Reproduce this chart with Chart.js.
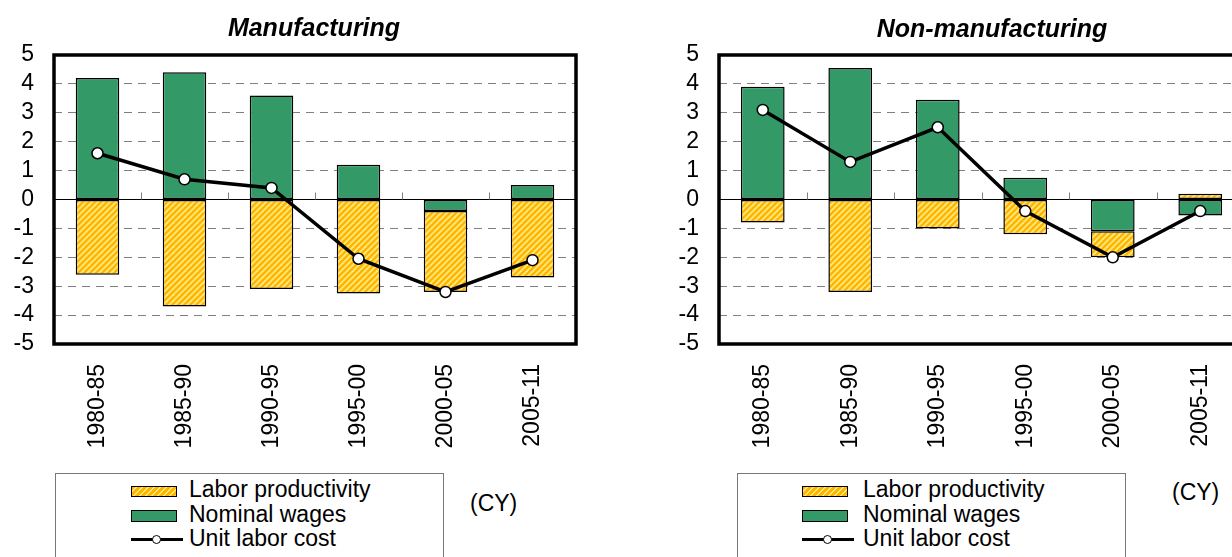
<!DOCTYPE html>
<html>
<head>
<meta charset="utf-8">
<script src="https://cdn.jsdelivr.net/npm/chart.js@4"></script>
<style>
  html, body { margin: 0; padding: 0; background: #fff; }
  body { width: 1232px; height: 557px; overflow: hidden; position: relative;
         font-family: "Liberation Sans", Arial, sans-serif; color: #000; }
  canvas { position: absolute; top: 0; }
  .title { position: absolute; width: 400px; text-align: center; font-size: 25px;
           line-height: 25px; font-weight: bold; font-style: italic; }
  .legend { position: absolute; top: 473px; height: 120px; border: 1px solid #777; box-sizing: border-box; }
  .row { position: absolute; font-size: 23px; line-height: 24px; white-space: nowrap; }
  .sw { position: absolute; box-sizing: border-box; border: 1.5px solid #000; }
  .stripe { background: repeating-linear-gradient(135deg, #ffb400 0 2.6px, #ffe97a 2.6px 4.2px); }
  .green { background: #339966; }
  .ln { position: absolute; height: 3px; background: #000; }
  .dot { position: absolute; width: 9px; height: 9px; border-radius: 50%; background: #fff;
         border: 1.5px solid #000; box-sizing: border-box; }
  .cy { position: absolute; font-size: 23px; line-height: 24px; }
</style>
</head>
<body>
<canvas id="mfg" width="600" height="470" style="left:0px"></canvas>
<canvas id="non" width="620" height="470" style="left:640px"></canvas>

<div class="title" style="left:114px; top:15px">Manufacturing</div>
<div class="title" style="left:792px; top:16px">Non-manufacturing</div>

<div class="legend" style="left:55px; width:389px"></div>
<div class="legend" style="left:737px; width:389px"></div>
<div id="legends"></div>

<div class="cy" style="left:470px; top:491px">(CY)</div>
<div class="cy" style="left:1172px; top:480px">(CY)</div>

<script>
// periods (calendar years)
var periods = ["1980-85", "1985-90", "1990-95", "1995-00", "2000-05", "2005-11"];

// Manufacturing, y/y % contributions
var mfgWages = [4.2, 4.4, 3.6, 1.2, -0.4, 0.5];
var mfgProductivity = [-2.6, -3.7, -3.1, -3.25, -2.8, -2.7];
var mfgUnitCost = [1.6, 0.7, 0.4, -2.05, -3.2, -2.1];

// Non-manufacturing
var nonWages = [3.9, 4.55, 3.45, 0.75, -1.1, -0.55];
var nonProductivity = [-0.8, -3.2, -1.0, -1.2, -0.9, 0.2];
var nonUnitCost = [3.1, 1.3, 2.5, -0.4, -2.0, -0.4];

var yTicks = [-5, 5, 1]; // min, max, step

var FONT = "'Liberation Sans', Arial, sans-serif";

function stripes(ctx) {
    var c = document.createElement("canvas");
    c.width = 6; c.height = 6;
    var g = c.getContext("2d");
    g.fillStyle = "#ffb400";
    g.fillRect(0, 0, 6, 6);
    g.strokeStyle = "#ffe97a";
    g.lineWidth = 1.8;
    [[-3, 3, 3, -3], [0, 6, 6, 0], [3, 9, 9, 3]].forEach(function (s) {
        g.beginPath(); g.moveTo(s[0], s[1]); g.lineTo(s[2], s[3]); g.stroke();
    });
    return ctx.createPattern(c, "repeat");
}

// zero line, little category ticks on it, and the heavy frame
var framePlugin = {
    id: "frame",
    beforeDatasetsDraw: function (chart) {
        var ctx = chart.ctx, a = chart.chartArea, x = chart.scales.x, y = chart.scales.y;
        var y0 = y.getPixelForValue(0);
        ctx.save();
        ctx.lineWidth = 1;
        ctx.strokeStyle = "#000";
        ctx.beginPath(); ctx.moveTo(a.left, y0); ctx.lineTo(a.right, y0); ctx.stroke();
        ctx.strokeStyle = "#808080";
        for (var i = 1; i < x.ticks.length; i++) {
            var bx = Math.round((x.getPixelForTick(i - 1) + x.getPixelForTick(i)) / 2) + 0.5;
            ctx.beginPath(); ctx.moveTo(bx, y0 - 7); ctx.lineTo(bx, y0); ctx.stroke();
        }
        ctx.restore();
    },
    afterDraw: function (chart) {
        var ctx = chart.ctx, a = chart.chartArea;
        ctx.save();
        ctx.lineWidth = 3.5;
        ctx.strokeStyle = "#000";
        ctx.strokeRect(a.left, a.top, a.right - a.left, a.bottom - a.top);
        ctx.restore();
    }
};

function makeChart(id, wages, productivity, unitCost, axisWidth, padRight) {
    var canvas = document.getElementById(id);
    var ctx = canvas.getContext("2d");
    return new Chart(ctx, {
        type: "bar",
        data: {
            labels: periods,
            datasets: [
                {
                    type: "line",
                    label: "Unit labor cost",
                    data: unitCost,
                    stack: "line",
                    order: 0,
                    borderColor: "#000",
                    borderWidth: 3.5,
                    pointRadius: 5.5,
                    pointBackgroundColor: "#fff",
                    pointBorderColor: "#000",
                    pointBorderWidth: 1.5,
                    tension: 0
                },
                {
                    label: "Nominal wages",
                    data: wages,
                    stack: "bars",
                    order: 1,
                    backgroundColor: "#339966",
                    borderColor: "#000",
                    borderWidth: 1.5,
                    borderSkipped: false
                },
                {
                    label: "Labor productivity",
                    data: productivity,
                    stack: "bars",
                    order: 1,
                    backgroundColor: stripes(ctx),
                    borderColor: "#000",
                    borderWidth: 1.5,
                    borderSkipped: false
                }
            ]
        },
        options: {
            responsive: false,
            animation: false,
            events: [],
            layout: { padding: { top: 55, right: padRight, left: 0, bottom: 0 } },
            datasets: { bar: { barPercentage: 0.5, categoryPercentage: 1 } },
            plugins: { legend: { display: false }, title: { display: false }, tooltip: { enabled: false } },
            scales: {
                x: {
                    stacked: true,
                    offset: true,
                    grid: { display: false, drawTicks: false },
                    border: { display: false },
                    ticks: {
                        minRotation: 90, maxRotation: 90, padding: 20,
                        color: "#000", font: { family: FONT, size: 23 }
                    },
                    afterFit: function (s) { s.height = 126; }
                },
                y: {
                    stacked: true,
                    min: yTicks[0], max: yTicks[1],
                    grid: {
                        drawTicks: false,
                        lineWidth: 1,
                        color: function (c) {
                            var v = c.tick ? Math.abs(c.tick.value) : 0;
                            return (v > 0 && v < 5) ? "#808080" : "rgba(0,0,0,0)";
                        }
                    },
                    border: { display: false, dash: [8, 6] },
                    ticks: {
                        stepSize: yTicks[2], autoSkip: false, maxTicksLimit: 20, padding: 20,
                        color: "#000", font: { family: FONT, size: 23, lineHeight: 1 }
                    },
                    afterFit: function (s) { s.width = axisWidth; }
                }
            }
        },
        plugins: [framePlugin]
    });
}

makeChart("mfg", mfgWages, mfgProductivity, mfgUnitCost, 54, 24);
makeChart("non", nonWages, nonProductivity, nonUnitCost, 79, 16);

// legends (swatch column + text)
function addLegend(swLeft, textLeft) {
    var host = document.getElementById("legends");
    var names = ["Labor productivity", "Nominal wages", "Unit labor cost"];
    var tops = [477, 501.5, 526];
    names.forEach(function (n, i) {
        var t = document.createElement("div");
        t.className = "row";
        t.style.left = textLeft + "px";
        t.style.top = tops[i] + "px";
        t.textContent = n;
        host.appendChild(t);
    });
    var s1 = document.createElement("div");
    s1.className = "sw stripe";
    s1.style.cssText = "left:" + swLeft + "px;top:486px;width:46px;height:11px";
    host.appendChild(s1);
    var s2 = document.createElement("div");
    s2.className = "sw green";
    s2.style.cssText = "left:" + swLeft + "px;top:510px;width:46px;height:12px";
    host.appendChild(s2);
    var l = document.createElement("div");
    l.className = "ln";
    l.style.cssText = "left:" + swLeft + "px;top:537.5px;width:52px";
    host.appendChild(l);
    var d = document.createElement("div");
    d.className = "dot";
    d.style.cssText = "left:" + (swLeft + 21) + "px;top:534.5px";
    host.appendChild(d);
}
addLegend(131, 189);
addLegend(802, 863);
</script>
</body>
</html>
